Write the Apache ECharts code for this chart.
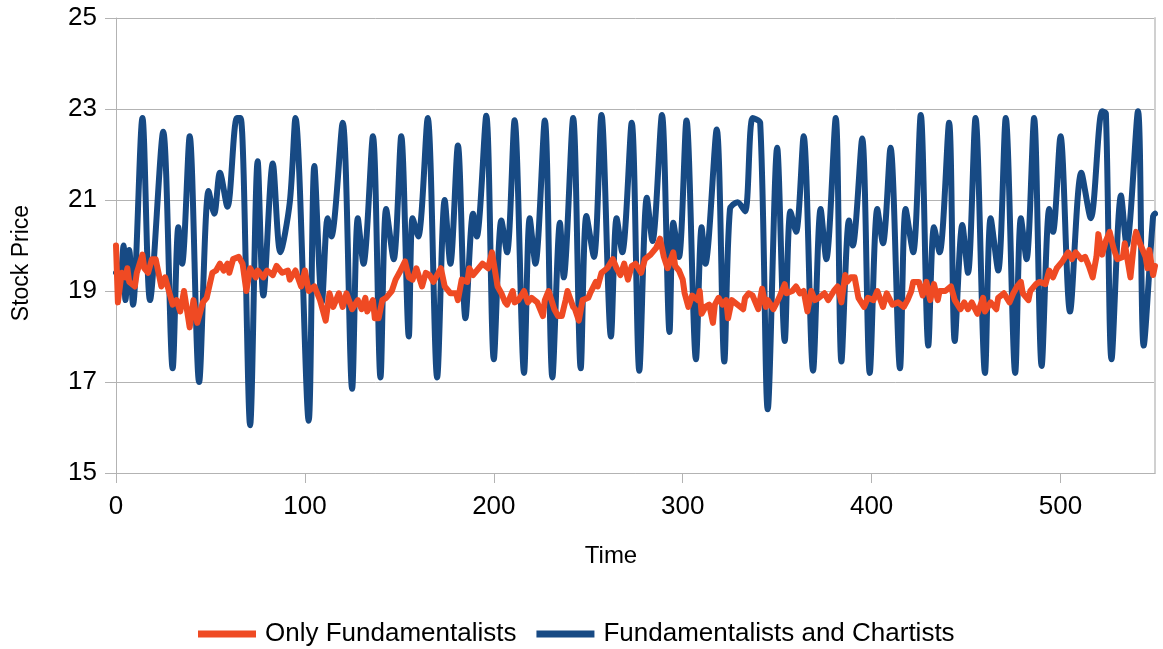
<!DOCTYPE html>
<html>
<head>
<meta charset="utf-8">
<script src="https://cdn.jsdelivr.net/npm/echarts@6/dist/echarts.min.js"></script>
<style>html,body{margin:0;padding:0;background:#fff}#c{width:1163px;height:649px}</style>
</head>
<body>
<div id="c"></div>
<script>
// ---- data ----
const xTicks = [0, 100, 200, 300, 400, 500];
const yTicks = [15, 17, 19, 21, 23, 25];

const seriesNames = ['Only Fundamentalists', 'Fundamentalists and Chartists'];

const fundTime = [0,1,3,5,6,7,10,11,14,15,17,19,21,22,24,26,28,30,32,34,36,39,41,43,46,48,51,53,55,57,59,60,62,65,67,68,69,71,74,75,78,80,83,85,88,91,92,95,98,100,102,105,108,111,113,115,118,120,122,125,128,130,132,133,136,137,139,141,143,146,148,150,153,155,157,159,162,164,166,168,172,174,177,180,181,183,186,187,189,192,194,197,199,202,204,206,207,210,211,213,216,218,220,223,226,227,229,232,234,236,238,239,242,243,245,247,250,251,254,255,257,260,263,265,267,269,271,273,275,278,280,283,286,288,290,292,295,296,298,300,301,303,305,308,309,310,312,314,316,317,319,321,323,324,326,329,332,333,335,337,340,342,344,345,348,351,354,355,358,360,362,364,366,368,370,372,375,377,380,382,384,386,387,389,391,393,396,398,401,403,406,408,411,414,417,419,421,422,425,427,429,431,433,435,436,439,442,444,447,449,451,453,456,459,460,463,466,467,470,473,475,477,479,480,483,484,487,489,492,494,496,498,501,504,506,508,511,513,515,517,519,520,522,524,526,528,530,533,534,537,539,540,542,545,546,547,549,550];
const fundPrice = [20.0,18.75,19.4,19.3,19.5,19.2,19.1,19.4,19.8,19.5,19.4,19.7,19.7,19.5,19.1,19.3,19.0,18.7,18.8,18.55,19.0,18.2,18.8,18.3,18.75,18.85,19.4,19.45,19.6,19.45,19.6,19.4,19.7,19.75,19.6,19.3,19.0,19.5,19.3,19.45,19.3,19.45,19.35,19.55,19.4,19.45,19.25,19.45,19.1,19.45,19.0,19.1,18.8,18.35,18.95,18.65,18.95,18.65,18.95,18.6,18.8,18.6,18.85,18.55,18.8,18.4,18.4,18.8,18.85,19.0,19.25,19.4,19.65,19.3,19.25,19.5,19.1,19.4,19.35,19.2,19.5,19.1,18.95,18.95,18.8,19.25,19.2,19.5,19.35,19.5,19.6,19.5,19.85,19.1,18.95,18.75,18.7,19.0,18.75,18.8,19.0,18.75,18.85,18.75,18.45,18.8,19.0,18.6,18.45,18.45,18.8,19.0,18.65,18.6,18.35,18.8,18.85,18.95,19.2,19.1,19.4,19.5,19.7,19.5,19.35,19.6,19.25,19.55,19.6,19.4,19.7,19.8,19.95,20.15,19.75,19.5,19.85,19.55,19.45,19.25,18.95,18.65,18.9,18.8,19.0,18.5,18.65,18.7,18.3,18.7,18.85,18.7,18.8,18.4,18.8,18.7,18.6,18.85,18.95,18.9,18.6,19.05,18.65,18.8,18.6,18.85,19.15,18.95,19.0,19.1,18.95,19.0,18.55,19.0,18.8,18.85,18.95,18.8,19.0,19.1,18.75,19.35,19.2,19.3,19.3,18.85,18.65,18.85,18.8,19.0,18.65,18.95,18.7,18.75,18.65,18.8,19.0,19.2,19.2,18.9,19.2,18.8,19.15,18.8,19.0,19.0,19.1,18.8,18.6,18.75,18.6,18.75,18.5,18.85,18.55,18.75,18.6,18.85,18.95,18.75,18.95,19.1,19.2,18.95,18.8,19.0,19.15,19.2,19.15,19.45,19.3,19.5,19.65,19.85,19.7,19.85,19.7,19.75,19.55,19.3,19.75,20.25,19.8,20.1,20.3,19.95,19.7,19.75,20.05,19.3,20.1,20.3,20.05,19.75,19.5,19.9,19.35,19.55];

const chartTime = [0,2,4,5,7,9,14,18,25,30,33,35,39,44,49,52,55,59,64,66,71,75,78,83,87,92,95,102,105,109,112,114,120,125,128,131,136,140,143,147,151,155,157,160,165,170,174,177,181,185,189,191,196,200,204,207,211,216,219,222,227,231,235,237,242,246,249,253,257,262,265,268,273,277,281,284,289,293,295,298,302,307,310,312,318,322,325,329,333,337,341,345,350,354,357,360,364,369,373,376,381,384,388,390,395,399,403,406,410,415,418,422,426,430,433,436,441,444,448,451,455,460,463,467,471,476,479,482,486,490,494,496,500,505,511,516,522,524,527,532,535,541,544,549,550];
const chartPrice = [19.4,19.3,20.0,18.8,19.9,18.7,22.8,18.8,22.5,17.3,20.4,19.6,22.4,17.0,21.2,20.7,21.6,20.85,22.8,22.8,16.05,21.85,18.9,21.8,19.85,20.95,22.8,16.15,21.75,18.75,20.6,20.2,22.7,16.85,20.6,19.6,22.4,17.1,20.8,19.7,22.4,18.0,20.6,20.2,22.8,17.1,21.0,19.6,22.2,18.4,20.7,20.2,22.85,17.5,20.55,19.85,22.75,17.2,20.6,19.6,22.75,17.1,20.5,19.3,22.8,17.3,20.65,19.75,22.87,18.0,20.6,19.85,22.7,17.25,21.05,20.1,22.87,18.1,20.5,19.75,22.75,17.5,20.4,19.6,22.55,17.45,20.8,20.95,20.75,22.8,22.7,16.4,22.15,17.9,20.75,20.3,22.4,17.25,20.8,19.7,22.8,17.45,20.55,20.0,22.35,17.2,20.8,20.05,22.15,17.3,20.8,19.85,22.87,17.8,20.4,19.85,22.7,17.9,20.45,19.4,22.8,17.2,20.6,19.45,22.8,17.2,20.6,19.7,22.8,17.35,20.8,20.3,22.4,18.55,21.6,20.6,22.95,22.9,17.5,21.1,20.0,22.95,17.8,20.65,20.7];

const colorFund = '#ef4a23';
const colorChart = '#174a84';

const fundData = fundTime.map((t, i) => [t, fundPrice[i]]);
const chartData = chartTime.map((t, i) => [t, chartPrice[i]]);

const FONT = '"Liberation Sans", Arial, sans-serif';
const chart = echarts.init(document.getElementById('c'), null, {renderer: 'canvas'});
chart.setOption({
  animation: false,
  backgroundColor: '#fff',
  grid: {left: 116, right: 8, top: 18, bottom: 176, containLabel: false},
  xAxis: {
    type: 'value', min: 0, max: 550, interval: 100,
    axisLine: {show: true, lineStyle: {color: '#b3b3b3', width: 1}},
    axisTick: {show: true, length: 10, customValues: xTicks, lineStyle: {color: '#b3b3b3'}},
    axisLabel: {customValues: xTicks, margin: 21, color: '#000', fontSize: 26, fontFamily: FONT},
    splitLine: {show: false}
  },
  yAxis: [{
    type: 'value', min: 15, max: 25, interval: 2,
    axisLine: {show: true, lineStyle: {color: '#b3b3b3', width: 1}},
    axisTick: {show: true, length: 11, lineStyle: {color: '#b3b3b3'}},
    axisLabel: {margin: 19, color: '#000', fontSize: 26, fontFamily: FONT},
    splitLine: {show: true, lineStyle: {color: '#b3b3b3', width: 1}}
  }, {
    type: 'value', min: 15, max: 25, interval: 2, position: 'right',
    axisLine: {show: true, lineStyle: {color: '#d0d0d0', width: 2}},
    axisTick: {show: false}, axisLabel: {show: false}, splitLine: {show: false}
  }],
  legend: {
    data: seriesNames,
    left: 193, top: 616,
    icon: 'rect', itemWidth: 58, itemHeight: 7, itemGap: 20,
    textStyle: {fontSize: 26, fontFamily: FONT, color: '#000', padding: [0, 0, 0, 4]}
  },
  graphic: [
    {type: 'text', x: 611, y: 556, style: {text: 'Time', fontSize: 24, fontFamily: FONT, fill: '#000', align: 'center', verticalAlign: 'middle'}},
    {type: 'text', x: 22, y: 263, rotation: Math.PI / 2, style: {text: 'Stock Price', fontSize: 23, fontFamily: FONT, fill: '#000', align: 'center', verticalAlign: 'middle'}}
  ],
  series: [
    {
      name: seriesNames[0], type: 'line', data: fundData, showSymbol: false, z: 3,
      color: colorFund,
      lineStyle: {width: 6, color: colorFund, cap: 'round', join: 'round'}
    },
    {
      name: seriesNames[1], type: 'line', data: chartData, showSymbol: false, z: 2,
      color: colorChart, smooth: 0.3,
      lineStyle: {width: 6, color: colorChart, cap: 'round', join: 'round'}
    }
  ]
});
</script>
</body>
</html>
